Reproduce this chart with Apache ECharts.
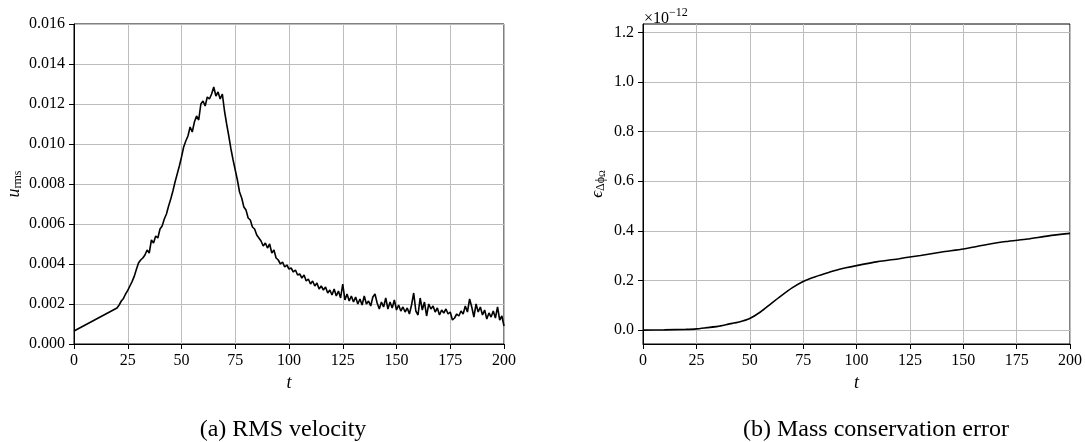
<!DOCTYPE html>
<html>
<head>
<meta charset="utf-8">
<script src="https://cdn.jsdelivr.net/npm/echarts@6/dist/echarts.min.js"></script>
<style>html,body{margin:0;padding:0;background:#fff}#c{width:1085px;height:442px}</style>
</head>
<body>
<div id="c"></div>
<script>
// ---- data ----
const xTicks = [0, 25, 50, 75, 100, 125, 150, 175, 200];
const rmsTicks = [0, 0.002, 0.004, 0.006, 0.008, 0.010, 0.012, 0.014, 0.016];
const errTicks = [0.0, 0.2, 0.4, 0.6, 0.8, 1.0, 1.2];

// RMS velocity: first sample at t=0, then samples every 1 time unit from t=20 to t=200
const rmsFirst = [0, 0.00065];
const rmsStartT = 20;
const rmsV = [
  0.00180,0.00195,0.00215,0.00228,0.00250,0.00268,0.00290,0.00312,0.00338,0.00372,
  0.00405,0.00420,0.00430,0.00445,0.00470,0.00455,0.00520,0.00505,0.00540,0.00530,
  0.00575,0.00590,0.00625,0.00650,0.00690,0.00725,0.00765,0.00810,0.00850,0.00890,
  0.00935,0.00985,0.01015,0.01040,0.01085,0.01060,0.01110,0.01140,0.01120,0.01200,
  0.01215,0.01190,0.01235,0.01225,0.01250,0.01285,0.01240,0.01260,0.01225,0.01250,
  0.01165,0.01100,0.01040,0.00975,0.00920,0.00870,0.00820,0.00760,0.00730,0.00685,
  0.00670,0.00630,0.00620,0.00585,0.00575,0.00545,0.00530,0.00515,0.00490,0.00505,
  0.00480,0.00500,0.00455,0.00470,0.00430,0.00420,0.00400,0.00410,0.00385,0.00395,
  0.00375,0.00380,0.00360,0.00370,0.00345,0.00350,0.00330,0.00345,0.00315,0.00325,
  0.00300,0.00315,0.00290,0.00305,0.00275,0.00290,0.00270,0.00285,0.00255,0.00270,
  0.00245,0.00275,0.00240,0.00265,0.00230,0.00300,0.00220,0.00250,0.00215,0.00240,
  0.00210,0.00235,0.00200,0.00225,0.00195,0.00240,0.00200,0.00215,0.00190,0.00235,
  0.00250,0.00205,0.00175,0.00210,0.00185,0.00230,0.00175,0.00210,0.00180,0.00220,
  0.00170,0.00195,0.00165,0.00185,0.00160,0.00180,0.00150,0.00195,0.00255,0.00165,
  0.00145,0.00230,0.00170,0.00210,0.00140,0.00200,0.00175,0.00190,0.00160,0.00180,
  0.00145,0.00170,0.00155,0.00175,0.00150,0.00160,0.00120,0.00130,0.00150,0.00140,
  0.00165,0.00150,0.00190,0.00160,0.00225,0.00185,0.00135,0.00200,0.00160,0.00185,
  0.00145,0.00170,0.00125,0.00155,0.00135,0.00165,0.00130,0.00185,0.00120,0.00140,
  0.00090
];

// Mass conservation error (units of 1e-12)
const errT = [0, 10, 20, 25, 30, 35, 40, 45, 50, 55, 60, 65, 70, 75, 80, 85, 90, 95, 100, 110, 120, 125, 130, 140, 150, 160, 170, 180, 190, 200];
const errV = [0, 0.001, 0.003, 0.005, 0.010, 0.015, 0.024, 0.033, 0.047, 0.073, 0.107, 0.140, 0.171, 0.196, 0.213, 0.227, 0.240, 0.251, 0.260, 0.276, 0.288, 0.295, 0.301, 0.315, 0.327, 0.343, 0.357, 0.367, 0.380, 0.390];

// ---- build ----
const rmsData = [rmsFirst].concat(rmsV.map((v, i) => [rmsStartT + i, v]));
const errData = errT.map((t, i) => [t, errV[i]]);

const FONT = 'Liberation Serif';
const gridColor = '#bdbdbd';

function xAxisCfg(gridIndex) {
  return {
    type: 'value', gridIndex, min: 0, max: 200, interval: 25,
    name: 't', nameLocation: 'middle', nameGap: 25,
    nameTextStyle: { fontFamily: FONT, fontStyle: 'italic', fontSize: 18, color: '#000' },
    axisLine: { show: true, onZero: false, lineStyle: { color: '#000', width: 1 } },
    axisTick: { show: true, length: 5, lineStyle: { color: '#000' }, customValues: xTicks },
    axisLabel: { fontFamily: FONT, fontSize: 16, color: '#000', margin: 9, customValues: xTicks },
    splitLine: { show: true, lineStyle: { color: gridColor, width: 1 } }
  };
}

const chart = echarts.init(document.getElementById('c'), null, { renderer: 'canvas' });
chart.setOption({
  animation: false,
  backgroundColor: '#fff',
  grid: [
    { left: 74, top: 24, width: 430, height: 320, show: true, borderColor: '#000', borderWidth: 1, backgroundColor: 'transparent' },
    { left: 643, top: 24, width: 429, height: 320, show: true, borderColor: '#000', borderWidth: 1, backgroundColor: 'transparent' }
  ],
  xAxis: [xAxisCfg(0), xAxisCfg(1)],
  yAxis: [
    {
      type: 'value', gridIndex: 0, min: 0, max: 0.016, interval: 0.002,
      name: '{u|u}{s|rms}', nameLocation: 'middle', nameGap: 50, nameRotate: 90,
      nameTextStyle: { color: '#000', rich: {
        u: { fontFamily: FONT, fontStyle: 'italic', fontSize: 18, color: '#000' },
        s: { fontFamily: FONT, fontSize: 12, color: '#000', padding: [7, 0, 0, 0] }
      } },
      axisLine: { show: true, lineStyle: { color: '#000', width: 1 } },
      axisTick: { show: true, length: 5, lineStyle: { color: '#000' } },
      axisLabel: { fontFamily: FONT, fontSize: 16, color: '#000', margin: 9, formatter: v => v.toFixed(3) },
      splitLine: { show: true, lineStyle: { color: gridColor, width: 1 } }
    },
    {
      type: 'value', gridIndex: 1, min: -0.056, max: 1.234,
      name: '{e|ϵ}{s|Δϕ}{ss|Ω}', nameLocation: 'middle', nameGap: 36, nameRotate: 90,
      nameTextStyle: { color: '#000', rich: {
        e: { fontFamily: FONT, fontStyle: 'italic', fontSize: 17, color: '#000' },
        s: { fontFamily: FONT, fontSize: 12, color: '#000', padding: [6, 0, 0, 0] },
        ss: { fontFamily: FONT, fontSize: 9, color: '#000', padding: [10, 0, 0, 0] }
      } },
      axisLine: { show: true, lineStyle: { color: '#000', width: 1 } },
      axisTick: { show: true, length: 5, lineStyle: { color: '#000' }, customValues: errTicks },
      axisLabel: { fontFamily: FONT, fontSize: 16, color: '#000', margin: 9, customValues: errTicks, formatter: v => v.toFixed(1) },
      splitLine: { show: true, lineStyle: { color: gridColor, width: 1 } }
    }
  ],
  series: [
    {
      type: 'line', xAxisIndex: 0, yAxisIndex: 0, data: rmsData, showSymbol: false,
      lineStyle: { color: '#000', width: 1.6 }, clip: true
    },
    {
      type: 'line', xAxisIndex: 1, yAxisIndex: 1, data: errData, showSymbol: false, smooth: 0.2,
      lineStyle: { color: '#000', width: 1.6 }, clip: true
    }
  ],
  graphic: [
    { type: 'text', left: 644, top: 7, style: {
      text: '{a|×10}{b|−12}', rich: {
        a: { fontFamily: FONT, fontSize: 16, fill: '#000', padding: [5, 0, 0, 0] },
        b: { fontFamily: FONT, fontSize: 12, fill: '#000', padding: [0, 0, 6, 0] }
      } } },
    { type: 'text', x: 283, y: 430, style: { text: '(a) RMS velocity', fontFamily: FONT, fontSize: 24, fill: '#000', align: 'center', verticalAlign: 'middle' } },
    { type: 'text', x: 876, y: 430, style: { text: '(b) Mass conservation error', fontFamily: FONT, fontSize: 24, fill: '#000', align: 'center', verticalAlign: 'middle' } }
  ]
});
</script>
</body>
</html>
